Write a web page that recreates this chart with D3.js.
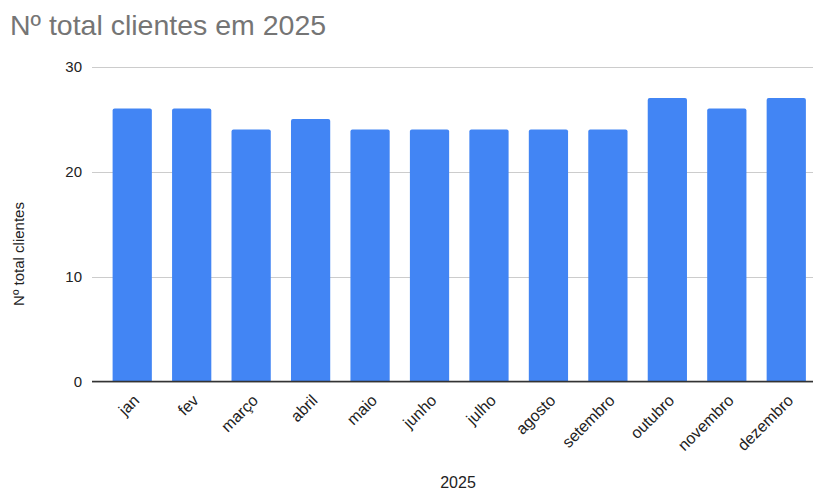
<!DOCTYPE html>
<html>
<head>
<meta charset="utf-8">
<script src="https://cdn.jsdelivr.net/npm/d3@7"></script>
<style>
  body { margin: 0; background: #fff; }
  svg text { font-family: "Liberation Sans", Arial, sans-serif; }
</style>
</head>
<body>
<div id="vis-holder"></div>
<script>
const months = ["jan", "fev", "março", "abril", "maio", "junho", "julho", "agosto", "setembro", "outubro", "novembro", "dezembro"];
const clientes = [26, 26, 24, 25, 24, 24, 24, 24, 24, 27, 26, 27];
const yTicks = [0, 10, 20, 30];

const width = 813;
const height = 491;
const margin = { top: 66.5, right: 0, bottom: 109.5, left: 92 };

const svg = d3.select("#vis-holder")
  .append("svg")
  .attr("width", width)
  .attr("height", height);

// title
svg.append("text")
  .attr("x", 10)
  .attr("y", 35)
  .attr("fill", "#757575")
  .attr("font-size", "28.5px")
  .text("Nº total clientes em 2025");

const x = d3.scaleBand()
  .domain(months)
  .range([102.5, 816])
  .paddingInner(0.34)
  .paddingOuter(0.17);

const y = d3.scaleLinear()
  .domain([0, 30])
  .range([height - margin.bottom, margin.top]);

// gridlines
svg.append("g")
  .selectAll("line")
  .data(yTicks)
  .enter()
  .append("line")
  .attr("x1", margin.left)
  .attr("x2", width)
  .attr("y1", d => Math.round(y(d)) + 0.5)
  .attr("y2", d => Math.round(y(d)) + 0.5)
  .attr("stroke", "#cccccc")
  .attr("stroke-width", 1);

// y tick labels
svg.append("g")
  .selectAll("text")
  .data(yTicks)
  .enter()
  .append("text")
  .attr("x", 82)
  .attr("y", d => y(d) + 5.5)
  .attr("text-anchor", "end")
  .attr("font-size", "15px")
  .attr("fill", "#222")
  .text(d => d);

// bars with rounded top corners
const r = 2;
svg.append("g")
  .selectAll("path")
  .data(clientes)
  .enter()
  .append("path")
  .attr("fill", "#4285f4")
  .attr("d", (d, i) => {
    const x0 = x(months[i]), w = x.bandwidth();
    const yt = y(d), yb = y(0);
    return `M${x0},${yb} V${yt + r} Q${x0},${yt} ${x0 + r},${yt} H${x0 + w - r} Q${x0 + w},${yt} ${x0 + w},${yt + r} V${yb} Z`;
  });

// baseline
svg.append("line")
  .attr("x1", margin.left)
  .attr("x2", width)
  .attr("y1", y(0))
  .attr("y2", y(0))
  .attr("stroke", "#333")
  .attr("stroke-width", 1.5);

// x labels rotated
svg.append("g")
  .selectAll("text")
  .data(months)
  .enter()
  .append("text")
  .attr("text-anchor", "end")
  .attr("font-size", "16px")
  .attr("fill", "#222")
  .attr("transform", d => `translate(${x(d) + x.bandwidth() / 2 + 8}, ${y(0) + 20}) rotate(-45)`)
  .text(d => d);

// axis titles
svg.append("text")
  .attr("x", 458)
  .attr("y", 488)
  .attr("text-anchor", "middle")
  .attr("font-size", "16px")
  .attr("fill", "#222")
  .text("2025");

svg.append("text")
  .attr("transform", `translate(24, 254) rotate(-90)`)
  .attr("text-anchor", "middle")
  .attr("font-size", "15px")
  .attr("fill", "#222")
  .text("Nº total clientes");
</script>
</body>
</html>
